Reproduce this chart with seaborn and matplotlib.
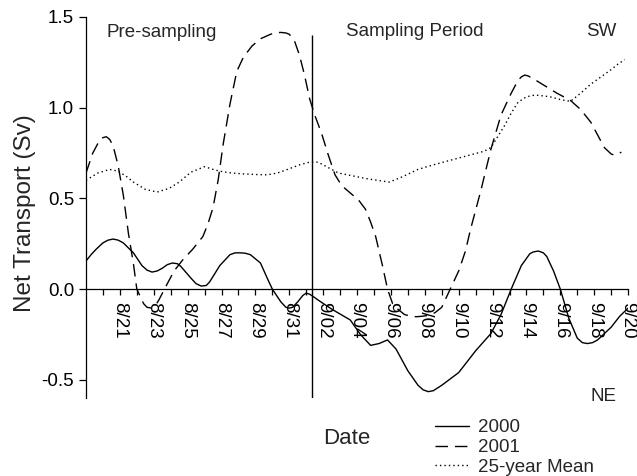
import matplotlib
matplotlib.use("Agg")
import matplotlib.pyplot as plt
import seaborn as sns
import pandas as pd

# ---- data (day index: 0 = 8/19) ----
days_2000 = [0.0, 0.3, 0.6, 1.0, 1.3, 1.6, 1.9, 2.2, 2.8, 3.3, 3.6, 3.9, 4.2, 4.5, 4.8,
             5.1, 5.4, 5.6, 6.2, 6.5, 6.8, 7.1, 7.3, 7.9, 8.5, 8.8, 9.1, 9.4, 9.7,
             10.3, 10.7, 11.0, 11.5, 11.8, 12.0, 12.2, 12.5, 12.8, 13.0, 13.2, 13.4,
             13.7, 14.5, 15.6, 16.2, 16.8, 17.3, 17.8, 18.3, 19.0, 19.6, 19.9, 20.2,
             20.5, 21.0, 22.0, 23.0, 23.9, 24.5, 25.1, 25.7, 26.2, 26.4, 26.7, 27.0,
             27.2, 27.6, 28.0, 28.5, 29.0, 29.3, 29.6, 29.9, 30.2, 31.0, 31.5, 32.0]
net_2000 = [0.155, 0.19, 0.22, 0.255, 0.27, 0.276, 0.27, 0.255, 0.20, 0.13, 0.105,
            0.094, 0.10, 0.115, 0.135, 0.144, 0.14, 0.125, 0.06, 0.03, 0.017, 0.02,
            0.04, 0.13, 0.19, 0.20, 0.20, 0.198, 0.19, 0.144, 0.06, 0.0, -0.07,
            -0.10, -0.105, -0.10, -0.07, -0.035, -0.022, -0.028, -0.04, -0.06,
            -0.11, -0.17, -0.25, -0.31, -0.30, -0.28, -0.33, -0.45, -0.53, -0.555,
            -0.565, -0.56, -0.53, -0.46, -0.34, -0.245, -0.14, 0.0, 0.13, 0.195,
            0.205, 0.21, 0.20, 0.18, 0.10, 0.0, -0.16, -0.27, -0.295, -0.30, -0.295,
            -0.28, -0.21, -0.15, -0.105]

days_2001 = [0.0, 0.4, 0.8, 1.0, 1.2, 1.4, 1.6, 1.9, 2.2, 2.5, 2.8, 3.0, 3.4, 3.6, 3.9,
             4.1, 4.3, 4.8, 5.2, 5.7, 6.3, 6.9, 7.2, 7.5, 7.8, 8.1, 8.5, 8.9, 9.3,
             9.8, 10.3, 10.9, 11.2, 11.5, 11.8, 12.0, 12.3, 12.6, 12.9, 13.2, 13.5,
             13.9, 14.3, 14.7, 15.1, 15.6, 16.1, 16.5, 16.8, 17.1, 17.5, 17.8, 18.1,
             18.4, 18.8, 19.2, 19.5, 19.8, 20.2, 20.6, 21.0, 21.5, 22.0, 22.4, 22.7,
             23.3, 23.9, 24.5, 25.1, 25.5, 25.7, 25.9, 26.1, 26.4, 27.1, 27.8, 28.6,
             29.2, 29.8, 30.2, 30.6, 31.0, 31.15, 31.3, 31.6]
net_2001 = [0.64, 0.75, 0.82, 0.835, 0.84, 0.825, 0.79, 0.68, 0.52, 0.31, 0.14, 0.0,
            -0.08, -0.10, -0.105, -0.09, -0.06, 0.03, 0.10, 0.16, 0.22, 0.29, 0.36,
            0.45, 0.60, 0.80, 1.02, 1.20, 1.28, 1.34, 1.38, 1.405, 1.413, 1.415,
            1.412, 1.405, 1.37, 1.29, 1.18, 1.05, 0.96, 0.86, 0.74, 0.63, 0.57, 0.53,
            0.49, 0.44, 0.37, 0.29, 0.13, 0.0, -0.08, -0.11, -0.14, -0.15, -0.152,
            -0.15, -0.145, -0.13, -0.10, 0.0, 0.10, 0.21, 0.33, 0.54, 0.77, 0.96,
            1.08, 1.15, 1.17, 1.18, 1.175, 1.16, 1.12, 1.08, 1.04, 0.99, 0.92, 0.85,
            0.78, 0.745, 0.74, 0.74, 0.755]

days_mean = [0.0, 0.7, 1.4, 1.9, 2.4, 2.8, 3.5, 4.2, 4.9, 5.5, 6.2, 7.0, 7.5, 7.9, 8.6,
             9.3, 10.0, 10.7, 11.3, 11.9, 12.6, 13.2, 13.7, 14.3, 14.9, 15.7, 16.5,
             17.2, 17.9, 18.7, 19.6, 20.5, 21.5, 22.7, 23.5, 23.9, 24.3, 24.7, 25.1,
             25.5, 26.0, 26.5, 27.0, 27.4, 28.0, 28.6, 29.2, 29.8, 30.4, 31.0, 31.4,
             31.8]
net_mean = [0.60, 0.64, 0.66, 0.65, 0.62, 0.59, 0.55, 0.535, 0.555, 0.59, 0.645, 0.675,
            0.66, 0.65, 0.64, 0.635, 0.632, 0.63, 0.64, 0.66, 0.685, 0.70, 0.70, 0.67,
            0.64, 0.625, 0.61, 0.60, 0.59, 0.62, 0.66, 0.685, 0.71, 0.74, 0.76, 0.78,
            0.84, 0.90, 0.97, 1.03, 1.06, 1.07, 1.065, 1.06, 1.045, 1.035, 1.08, 1.13,
            1.17, 1.21, 1.24, 1.265]

series_names = ["2000", "2001", "25-year Mean"]
tick_days = [2, 4, 6, 8, 10, 12, 14, 16, 18, 20, 22, 24, 26, 28, 30, 32]
tick_labels = ["8/21", "8/23", "8/25", "8/27", "8/29", "8/31", "9/02", "9/04",
               "9/06", "9/08", "9/10", "9/12", "9/14", "9/16", "9/18", "9/20"]
minor_days = [1, 3, 5, 7, 9, 11, 13, 15, 17, 19, 21, 23, 25, 27, 29, 31]
y_ticks = [-0.5, 0.0, 0.5, 1.0, 1.5]
y_tick_labels = ["-0.5", "0.0", "0.5", "1.0", "1.5"]
sampling_start = 13.35

# ---- style ----
sns.set_style("ticks")
plt.rcParams["font.family"] = ["Liberation Sans", "DejaVu Sans"]

fig = plt.figure(figsize=(6.37, 4.76), dpi=100)
ax = fig.add_axes([0.135, 0.1639, 0.851, 0.8004])

styles = [dict(linestyle="-"),
          dict(linestyle=(0, (9, 5))),
          dict(linestyle=(0, (1, 2.2)))]
for name, xs, ys, st in zip(series_names,
                            [days_2000, days_2001, days_mean],
                            [net_2000, net_2001, net_mean], styles):
    df = pd.DataFrame({"day": xs, "net": ys})
    sns.lineplot(data=df, x="day", y="net", ax=ax, color="black", lw=1.0,
                 label=name, **st)

ax.vlines(sampling_start, -0.6, 1.4, color="black", lw=1.0)

ax.set_xlim(0, 32)
ax.set_ylim(-0.6, 1.5)
ax.spines["top"].set_visible(False)
ax.spines["right"].set_visible(False)
ax.spines["bottom"].set_position(("data", 0))
for s in ("left", "bottom"):
    ax.spines[s].set_linewidth(0.9)
    ax.spines[s].set_color("black")

ax.set_xticks(tick_days)
ax.set_xticklabels(tick_labels, rotation=270, fontsize=13.5)
ax.set_xticks(minor_days, minor=True)
ax.set_yticks(y_ticks)
ax.set_yticklabels(y_tick_labels, fontsize=13.5)
ax.tick_params(axis="x", which="both", direction="out", length=4.3, width=0.9,
               pad=5, colors="black")
ax.tick_params(axis="y", which="both", direction="out", length=5, width=0.9,
               pad=3.5, colors="black")
ax.set_xlabel("")
ax.set_ylabel("")

ax.text(0.0387, 0.958, "Pre-sampling", transform=ax.transAxes, fontsize=13.5,
        ha="left", va="center")
ax.text(0.480, 0.963, "Sampling Period", transform=ax.transAxes, fontsize=13.5,
        ha="left", va="center")
ax.text(0.9225, 0.963, "SW", transform=ax.transAxes, fontsize=13.5,
        ha="left", va="center")
ax.text(0.930, 0.003, "NE", transform=ax.transAxes, fontsize=13.5,
        ha="left", va="center")

fig.text(346.5 / 637, 1 - 438 / 476, "Date", fontsize=16, ha="center", va="center")
fig.text(25 / 637, 1 - 213 / 476, "Net Transport (Sv)", fontsize=17.5,
         rotation=90, ha="center", va="center")

ax.legend_.remove()
handles, labels = ax.get_legend_handles_labels()
fig.legend(handles, labels, loc="upper left",
           bbox_to_anchor=(435 / 637, 1 - 419 / 476), frameon=False,
           fontsize=13.5, handlelength=1.81, handletextpad=0.48,
           labelspacing=0.15, borderpad=0, borderaxespad=0)

fig.savefig("out.png", dpi=100)
